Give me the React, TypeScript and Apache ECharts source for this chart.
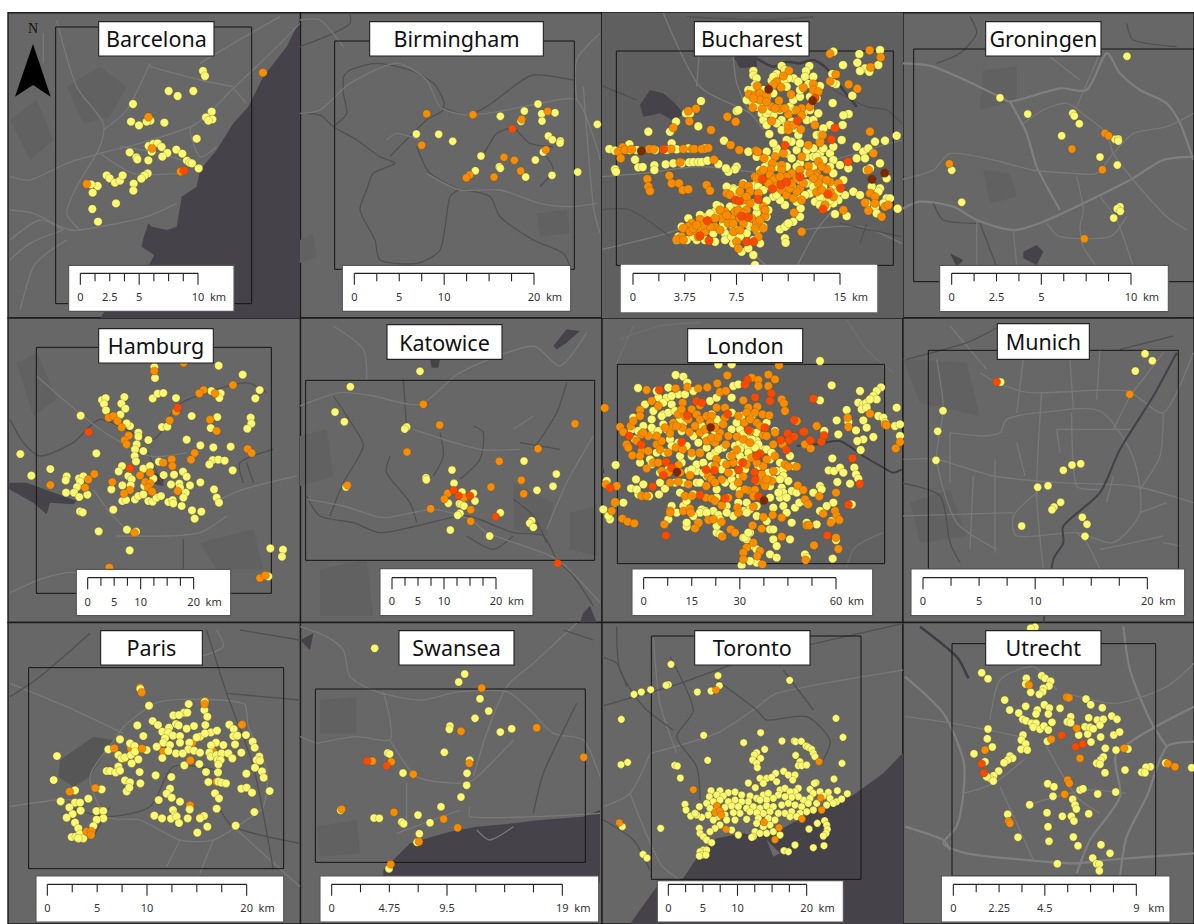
import React, { useEffect, useRef } from "react";
import * as echarts from "echarts";

type P = number[][];
const barcelonaLow: P = [[609,213],[615,228],[506,273],[533,288],[580,273],[399,312],[635,335],[618,352],[637,358],[625,362],[393,365],[417,376],[451,362],[440,365],[493,368],[590,416],[446,438],[460,432],[473,430],[485,441],[529,449],[547,461],[502,459],[487,470],[455,455],[389,457],[409,472],[412,478],[445,481],[561,482],[569,488],[576,490],[596,505],[320,526],[329,535],[345,548],[360,542],[368,526],[443,520],[433,527],[424,536],[401,551],[400,572],[293,558],[273,553],[278,578],[348,610],[277,627],[294,665]];
const barcelonaMid: P = [[789,218],[445,351],[456,445],[542,515],[260,552]];
const barcelonaHigh: P = [[552,512]];
const birminghamLow: P = [[714,312],[673,333],[725,341],[765,338],[601,349],[663,364],[726,363],[892,373],[349,402],[416,403],[458,424],[745,408],[757,419],[781,423],[780,429],[730,456],[706,480],[543,468],[598,500],[601,505],[526,512],[677,531],[756,526],[833,516]];
const birminghamMid: P = [[380,341],[519,344],[743,334],[665,358],[365,436],[738,449],[612,472],[643,481],[662,513],[509,525],[499,533],[582,531]];
const birminghamHigh: P = [[637,386]];
const bucharestLow: P = [[840,120],[778,132],[772,158],[835,165],[795,175],[780,183],[808,185],[700,125],[729,165],[697,192],[708,222],[698,218],[757,257],[698,279],[746,312],[730,316],[728,345],[545,168],[460,183],[460,196],[628,168],[618,183],[581,205],[565,205],[530,192],[555,180],[615,200],[640,200],[470,205],[515,212],[550,215],[595,215],[625,222],[660,228],[465,225],[445,240],[455,275],[485,310],[490,330],[500,345],[520,315],[545,330],[560,345],[585,355],[508,372],[545,360],[595,375],[540,300],[570,290],[585,300],[500,262],[610,310],[630,300],[28,417],[45,422],[88,403],[90,420],[110,420],[145,365],[210,365],[228,335],[295,349],[303,273],[258,310],[270,310],[410,303],[415,300],[372,392],[445,425],[410,470],[405,478],[385,485],[378,475],[45,478],[48,485],[105,449],[115,472],[128,471],[163,466],[163,480],[197,463],[220,460],[245,460],[268,457],[280,456],[295,456],[305,456],[322,452],[355,462],[200,420],[215,400],[165,420],[230,418],[265,415],[315,415],[470,440],[500,425],[530,415],[575,395],[590,420],[560,430],[575,445],[600,460],[620,440],[640,440],[660,430],[670,415],[690,430],[700,450],[720,465],[745,475],[690,470],[650,375],[665,372],[690,345],[670,355],[725,390],[660,395],[700,410],[770,410],[790,425],[770,445],[795,445],[825,395],[855,392],[890,377],[805,415],[840,460],[810,475],[800,480],[860,505],[815,530],[840,535],[835,545],[860,565],[870,565],[850,580],[825,590],[800,580],[830,610],[893,596],[760,545],[780,555],[735,555],[715,570],[700,580],[645,575],[675,565],[680,590],[705,612],[740,618],[600,620],[602,595],[590,560],[555,585],[540,570],[520,560],[500,572],[580,635],[560,645],[540,658],[555,650],[565,640],[555,685],[557,698],[470,520],[400,535],[405,550],[420,555],[440,570],[460,580],[490,595],[500,620],[360,590],[345,605],[320,620],[300,615],[275,640],[250,655],[235,680],[260,690],[290,690],[315,690],[345,695],[375,670],[375,690],[400,700],[425,725],[445,715],[460,735],[465,765],[480,700],[490,650],[470,660],[450,650],[440,640],[400,650],[370,640],[350,620],[420,600],[390,590],[620,520],[600,510],[575,530],[560,520],[630,550],[660,560],[705,540],[730,510],[640,510],[650,440]];
const bucharestLowDense: P = [[430,520],[415,540],[455,530],[475,530],[490,540],[510,530],[530,555],[560,540],[590,575],[615,555],[640,530],[670,530],[700,525],[715,545],[690,570],[660,585],[480,480],[495,470],[530,470],[560,470],[590,470],[615,490],[640,470],[670,450],[700,490],[620,420],[640,415],[600,400],[560,390],[520,400],[530,430],[505,450],[470,610],[480,640],[460,690],[440,670],[420,680],[395,680],[370,650],[340,670],[320,650],[295,650],[265,625],[245,650],[230,690],[280,680],[330,610],[350,585],[410,580],[430,590],[470,590],[505,600],[400,540],[380,530],[520,250],[490,280],[470,290],[500,310],[530,340],[575,335],[620,330],[640,330],[655,310],[580,270],[600,260],[630,260],[650,265],[490,240],[520,200],[560,230],[600,240],[455,240],[440,270],[505,300]];
const bucharestMid: P = [[809,121],[690,131],[842,142],[812,172],[708,193],[690,214],[746,223],[772,236],[567,182],[550,198],[530,215],[520,225],[543,232],[472,228],[447,253],[465,255],[480,250],[500,255],[480,270],[458,293],[487,297],[515,290],[537,272],[540,295],[573,253],[610,233],[640,222],[640,240],[655,245],[605,295],[590,300],[630,290],[565,313],[605,316],[515,333],[565,360],[603,358],[645,345],[625,405],[68,412],[55,425],[75,420],[62,445],[95,418],[148,417],[160,418],[213,417],[250,417],[277,417],[283,417],[305,417],[325,414],[220,353],[268,334],[288,296],[265,303],[333,360],[382,320],[407,335],[392,405],[418,420],[342,449],[240,457],[142,507],[145,530],[150,543],[208,497],[215,520],[237,520],[248,540],[265,538],[320,525],[330,542],[468,422],[473,425],[492,445],[525,440],[550,430],[517,460],[545,465],[513,478],[545,480],[510,495],[525,505],[480,490],[465,500],[490,510],[575,490],[605,440],[625,468],[655,455],[650,490],[680,478],[660,505],[645,495],[690,515],[655,520],[650,546],[600,535],[590,545],[545,540],[560,555],[580,565],[605,570],[520,510],[428,525],[445,528],[450,545],[380,550],[390,555],[475,550],[430,570],[668,375],[660,398],[810,365],[820,430],[805,480],[810,550],[825,560],[795,578],[825,580],[805,602],[845,620],[855,590],[865,585],[730,600],[675,585],[582,608],[605,665],[490,590],[495,618],[450,580],[440,600],[405,605],[395,625],[420,625],[375,605],[360,600],[365,625],[345,650],[360,660],[385,640],[400,640],[430,640],[455,625],[300,628],[275,640],[265,650],[250,655],[270,665],[290,665],[295,680],[245,680],[230,688],[250,690],[315,665],[410,695],[415,715],[475,680],[490,655],[470,505],[505,520],[530,530],[570,535],[575,520],[610,520],[630,490],[600,480],[590,505],[560,500],[540,500],[490,480],[665,470],[680,510],[640,505],[665,540],[700,560],[715,520],[690,545],[420,545],[440,560],[415,600],[430,610],[380,615],[345,625],[330,650],[310,645],[280,655],[290,645],[400,665],[420,660],[470,640],[465,655],[480,630],[495,600],[565,345],[580,345],[555,295],[525,295],[460,265],[500,275]];
const bucharestHigh: P = [[190,418],[593,332],[705,354],[694,389],[555,406],[744,455],[645,265],[487,508],[600,500],[517,537],[543,525],[560,516],[722,535],[684,553],[669,598],[474,568],[407,570],[418,573],[425,618],[445,622],[322,632],[300,678],[327,692],[440,695],[461,695]];
const bucharestTop: P = [[124,423],[506,238],[638,272],[816,508],[854,489]];
const groningenLow: P = [[681,139],[300,263],[383,312],[518,310],[523,318],[538,341],[485,377],[645,388],[655,387],[655,393],[600,441],[652,465],[155,481],[185,577],[660,590],[652,596],[661,604],[641,624]];
const groningenMid: P = [[615,370],[626,377],[516,417],[607,479],[148,461],[553,686]];
const hamburgLow: P = [[463,153],[465,186],[656,149],[728,176],[779,222],[766,247],[458,247],[473,233],[490,231],[528,246],[634,225],[662,232],[658,246],[306,252],[317,246],[373,243],[364,263],[376,278],[312,264],[318,283],[242,299],[361,296],[575,300],[652,303],[752,305],[754,323],[742,338],[486,333],[502,332],[390,330],[380,322],[632,336],[415,350],[415,362],[445,372],[560,371],[601,388],[640,394],[692,392],[410,385],[405,400],[430,405],[404,420],[408,436],[638,432],[655,431],[674,434],[628,445],[289,412],[61,414],[94,479],[151,459],[200,481],[197,493],[237,487],[250,481],[240,497],[231,513],[198,530],[222,530],[238,543],[262,536],[366,450],[356,466],[430,458],[450,450],[477,437],[491,477],[522,476],[549,467],[560,482],[698,463],[601,499],[570,508],[513,505],[538,503],[540,515],[557,530],[550,545],[642,520],[650,545],[657,560],[545,570],[576,583],[604,587],[584,608],[505,558],[518,552],[520,562],[385,480],[395,490],[367,508],[392,508],[334,520],[367,555],[378,552],[405,550],[415,540],[430,535],[445,555],[458,557],[470,545],[483,540],[433,510],[460,488],[240,586],[248,589],[340,581],[296,646],[381,641],[408,647],[389,703],[811,697],[849,701],[846,722],[805,781]];
const hamburgMid: P = [[463,165],[551,140],[699,207],[611,222],[598,232],[645,232],[528,287],[509,313],[630,311],[650,345],[326,305],[340,300],[353,315],[365,334],[386,359],[374,373],[380,385],[584,411],[573,431],[743,399],[755,411],[490,440],[515,430],[517,450],[283,474],[265,490],[255,515],[151,507],[420,478],[450,470],[337,498],[390,522],[372,533],[436,498],[450,502],[445,515],[456,527],[533,525],[403,650],[328,755],[780,786],[796,778]];
const hamburgHigh: P = [[533,275],[266,348],[390,457]];
const katowiceLow: P = [[360,166],[151,212],[105,288],[133,317],[320,333],[314,339],[456,462],[378,485],[379,491],[462,502],[486,528],[520,532],[525,555],[445,562],[478,563],[484,565],[492,570],[480,592],[473,598],[601,590],[451,642],[569,660],[672,435],[769,474],[759,511],[711,523],[695,614],[689,622],[700,634],[138,513]];
const katowiceMid: P = [[370,265],[419,327],[321,408],[598,436],[714,398],[825,323],[142,508],[573,513],[664,493],[671,533],[443,532],[433,549],[492,545],[392,578],[512,581],[512,616]];
const katowiceHigh: P = [[461,523],[476,539],[510,539],[587,602],[773,742]];
const londonLow: P = [[660,135],[355,145],[395,145],[227,177],[250,182],[262,200],[114,216],[695,208],[843,214],[830,225],[820,240],[830,250],[780,225],[775,260],[790,265],[800,260],[810,250],[785,280],[800,275],[740,282],[660,253],[890,275],[745,318],[790,313],[835,300],[850,305],[855,320],[885,330],[900,325],[710,313],[768,343],[800,335],[715,355],[820,363],[790,370],[772,375],[782,402],[673,345],[900,360],[697,427],[686,463],[702,465],[720,455],[730,470],[763,455],[768,475],[775,488],[712,498],[750,503],[660,510],[640,530],[665,520],[700,560],[680,570],[620,560],[585,575],[598,560],[650,625],[695,615],[615,715],[620,725],[698,728],[708,672],[755,565],[47,447],[20,495],[93,517],[108,490],[130,505],[115,535],[147,540],[177,535],[195,518],[225,500],[240,530],[290,465],[265,465],[205,460],[150,430],[155,445],[195,410],[205,215],[175,245],[200,245],[215,265],[235,235],[255,235],[330,255],[350,245],[395,245],[400,210],[415,205],[280,225],[190,295],[205,290],[155,310],[135,265],[100,305],[95,340],[155,355],[190,325],[250,320],[335,295],[365,320],[305,330],[345,345],[295,380],[320,395],[345,410],[370,395],[405,390],[420,380],[440,365],[435,385],[445,395],[470,375],[420,340],[470,350],[455,300],[500,320],[525,345],[490,400],[510,430],[540,440],[530,465],[550,460],[520,490],[545,515],[550,530],[540,545],[575,525],[590,530],[510,545],[520,575],[550,570],[420,400],[390,420],[370,440],[420,440],[300,410],[275,420],[260,390],[235,380],[210,370],[245,345],[180,470],[290,500],[320,480],[280,535],[375,500],[395,490],[420,480],[400,510],[350,520],[420,525],[440,560],[415,560],[380,570],[340,585],[305,580],[315,585],[250,570],[215,570],[205,610],[260,632],[295,620],[355,597],[350,650],[360,655],[430,665],[440,670],[450,650],[500,615],[520,670],[530,690],[575,620],[570,670],[510,715],[530,725],[470,740],[450,735],[425,748],[360,610],[290,445],[225,460],[570,420],[580,450],[550,480],[30,610],[25,600],[10,580],[70,560],[45,560],[620,620],[660,585],[560,590],[490,490],[450,580],[470,600],[400,600],[315,360],[340,375],[280,360],[200,340]];
const londonLowDense: P = [[170,225],[190,260],[215,240],[160,285],[185,300],[225,285],[240,310],[130,330],[155,335],[105,370],[115,345],[175,345],[215,390],[170,410],[120,440],[350,310],[395,290],[410,320],[425,300],[395,340],[430,355],[455,370],[475,385],[500,400],[515,410],[445,410],[465,395],[400,415],[355,400],[330,420],[310,440],[335,450],[365,460],[395,470],[435,460],[475,450],[505,470],[540,490],[565,495],[535,530],[560,545],[440,430],[420,420],[510,510],[300,500],[350,545],[260,555],[230,590],[300,590],[320,590],[380,590],[430,585],[440,590],[470,570],[510,640],[520,640],[435,665],[445,650],[460,690],[470,700],[350,630],[260,620],[280,600],[180,500],[250,500],[110,520],[245,440],[275,460],[310,470],[240,420]];
const londonMid: P = [[14,276],[537,148],[382,178],[455,185],[475,192],[505,176],[525,190],[475,210],[505,210],[352,202],[262,213],[295,217],[322,214],[227,217],[140,222],[360,228],[378,225],[430,253],[155,255],[175,270],[248,260],[300,268],[350,275],[375,275],[445,275],[472,272],[545,250],[552,262],[120,282],[120,300],[234,295],[275,280],[290,295],[300,310],[320,300],[335,300],[375,305],[440,290],[465,290],[488,295],[508,298],[555,285],[590,315],[60,333],[70,348],[92,330],[100,315],[220,320],[220,332],[285,330],[330,320],[370,325],[433,320],[470,320],[525,350],[650,330],[612,347],[855,325],[860,328],[810,293],[743,305],[745,333],[124,355],[145,360],[210,352],[248,335],[268,348],[300,350],[320,375],[360,350],[385,360],[410,362],[450,345],[490,358],[80,385],[85,395],[97,418],[125,405],[145,405],[170,385],[185,375],[228,395],[248,400],[275,410],[300,412],[345,380],[378,385],[410,402],[520,385],[548,385],[615,385],[632,397],[887,397],[900,378],[160,440],[175,440],[140,457],[185,465],[235,448],[235,497],[210,500],[270,478],[350,430],[380,445],[400,440],[325,480],[335,490],[365,490],[430,482],[455,425],[490,450],[485,475],[520,465],[555,445],[565,452],[590,452],[515,495],[490,500],[319,510],[445,523],[465,522],[495,510],[593,508],[610,522],[708,530],[125,540],[140,540],[255,540],[275,540],[318,545],[335,548],[345,555],[365,568],[418,535],[460,572],[412,575],[415,590],[490,603],[518,597],[545,605],[615,550],[625,565],[658,541],[670,593],[705,585],[710,600],[718,612],[692,620],[620,628],[628,628],[210,585],[210,590],[250,585],[270,578],[272,590],[193,625],[295,622],[285,637],[325,612],[340,610],[365,618],[392,640],[405,650],[367,662],[458,628],[485,638],[545,662],[642,688],[708,665],[715,699],[617,732],[440,695],[430,710],[430,730],[480,705],[472,720],[460,680],[487,745],[35,585],[67,608],[83,617],[103,622],[45,558],[50,510],[18,505],[5,520],[195,335],[170,360],[130,350],[110,375],[230,330],[255,300],[245,280],[265,310],[315,340],[345,335],[335,365],[355,365],[415,300],[450,310],[480,330],[430,370],[450,380],[500,360],[395,420],[345,450],[385,470],[415,500],[345,500],[470,495],[500,490],[430,440],[470,440],[440,445],[500,430],[525,420],[180,400],[205,410],[120,420],[265,505],[240,470],[205,470],[385,545],[460,540],[435,520]];
const londonHigh: P = [[178,222],[442,192],[435,206],[514,232],[510,255],[465,244],[640,248],[289,255],[306,260],[262,298],[383,294],[582,312],[445,342],[495,335],[563,352],[568,372],[583,362],[542,372],[610,347],[631,373],[664,377],[672,358],[88,360],[124,386],[245,378],[559,402],[480,413],[470,420],[757,427],[198,438],[215,455],[428,440],[190,478],[318,461],[343,464],[416,462],[463,468],[465,492],[30,516],[158,512],[779,504],[375,547],[300,537],[476,541],[745,566],[198,658],[682,658]];
const londonTop: P = [[332,334],[231,468],[492,553],[5,525]];
const munichLow: P = [[735,113],[757,134],[706,165],[129,284],[113,346],[108,433],[542,443],[516,447],[490,463],[444,509],[413,514],[482,559],[462,573],[456,581],[547,604],[561,625],[555,661],[365,630],[302,198],[410,935]];
const munichMid: P = [[689,235]];
const munichHigh: P = [[290,198]];
const parisUnder: P = [[577,368],[640,395],[490,395],[373,415],[393,385],[570,556],[600,592],[650,485],[300,572],[615,243],[420,203]];
const parisLow: P = [[421,207],[447,257],[566,252],[614,246],[552,278],[562,278],[520,286],[537,285],[613,270],[622,290],[458,303],[474,315],[412,316],[528,312],[536,316],[582,318],[560,326],[616,315],[688,314],[701,327],[487,335],[507,323],[505,338],[430,348],[519,347],[540,348],[600,350],[590,352],[633,337],[651,332],[615,340],[700,348],[712,347],[738,345],[360,358],[390,370],[404,378],[495,355],[490,368],[510,375],[470,380],[540,368],[568,368],[648,368],[670,375],[633,376],[705,373],[758,365],[764,383],[325,388],[440,390],[565,388],[582,392],[600,398],[528,400],[548,400],[505,393],[487,414],[628,398],[632,410],[650,405],[665,400],[685,400],[697,415],[724,398],[355,405],[365,415],[375,412],[393,405],[405,395],[415,418],[395,430],[355,440],[653,420],[662,420],[655,433],[778,410],[770,420],[780,422],[765,443],[786,454],[791,473],[739,461],[553,436],[598,432],[618,456],[654,457],[419,456],[320,453],[330,453],[347,457],[360,452],[467,466],[514,471],[375,481],[390,487],[421,490],[380,514],[388,503],[625,486],[655,485],[665,488],[678,490],[724,506],[740,503],[756,518],[809,513],[645,520],[657,535],[510,506],[500,521],[515,533],[476,540],[540,545],[569,568],[650,566],[763,576],[519,570],[525,585],[463,587],[486,595],[513,596],[530,590],[563,595],[537,609],[612,588],[600,595],[622,620],[592,638],[707,617],[171,408],[161,480],[225,511],[305,508],[265,536],[182,544],[225,548],[240,548],[208,562],[218,582],[242,572],[200,593],[289,573],[310,573],[310,595],[290,599],[225,608],[280,618],[235,625],[215,651],[228,650],[240,642],[250,655],[235,655]];
const parisMid: P = [[425,217],[614,252],[726,314],[343,385],[426,386],[571,421],[286,504],[209,515],[260,635],[274,634],[273,645]];
const swanseaLow: P = [[224,85],[494,162],[476,186],[540,236],[566,273],[525,295],[450,318],[448,328],[601,336],[635,326],[263,399],[269,402],[433,397],[509,421],[501,460],[500,496],[483,531],[309,459],[423,560],[354,585],[222,594],[238,595],[305,606],[311,611],[390,608],[358,641],[351,667],[267,746],[122,571]];
const swanseaMid: P = [[545,204],[483,334],[710,323],[851,412],[217,423],[274,425],[508,430],[340,463],[125,568],[282,577],[431,597],[473,623],[357,665],[272,733]];
const swanseaHigh: P = [[201,423],[260,437]];
const torontoLow: P = [[213,133],[354,167],[569,181],[358,197],[205,194],[198,196],[152,209],[124,216],[102,223],[292,216],[333,213],[708,295],[64,298],[482,338],[311,346],[729,352],[431,368],[546,363],[583,363],[587,365],[604,364],[494,388],[618,378],[625,382],[635,388],[640,400],[645,410],[470,398],[463,405],[482,415],[458,420],[470,430],[472,443],[587,406],[600,425],[595,437],[605,437],[620,435],[323,421],[83,427],[63,434],[224,436],[232,438],[241,474],[726,430],[702,477],[648,488],[643,490],[551,454],[527,460],[565,465],[585,465],[480,475],[500,475],[515,472],[530,485],[578,480],[445,489],[466,503],[490,490],[595,505],[712,512],[742,521],[585,515],[255,553],[258,570],[333,512],[360,512],[385,518],[405,516],[350,525],[370,528],[328,530],[425,525],[450,528],[470,535],[490,525],[505,520],[540,510],[555,505],[570,515],[630,508],[640,520],[660,515],[685,517],[670,528],[690,535],[710,545],[725,537],[700,550],[630,535],[610,540],[595,530],[575,532],[555,530],[535,525],[520,535],[500,540],[480,540],[445,545],[425,545],[405,540],[385,545],[360,540],[340,545],[320,550],[298,560],[330,565],[350,570],[375,562],[395,558],[415,560],[440,565],[460,560],[480,565],[500,558],[520,560],[545,555],[565,550],[585,555],[605,560],[625,550],[650,550],[680,555],[640,570],[620,575],[600,580],[575,575],[555,580],[535,580],[510,575],[490,580],[470,578],[450,575],[420,580],[400,578],[375,585],[355,590],[325,585],[305,592],[290,585],[272,588],[285,580],[340,600],[380,600],[405,600],[440,598],[475,595],[505,595],[525,600],[570,590],[590,590],[510,615],[490,620],[470,610],[465,635],[480,640],[500,640],[520,635],[540,645],[460,650],[455,652],[415,645],[395,630],[360,615],[345,625],[330,635],[298,625],[300,640],[310,650],[320,660],[335,668],[310,690],[300,695],[320,690],[305,705],[298,708],[318,705],[627,627],[652,610],[674,602],[680,615],[682,628],[678,640],[670,648],[640,683],[672,677],[585,675],[552,692],[565,695],[182,625],[129,703],[141,714],[67,620]];
const torontoMid: P = [[348,210],[657,425],[280,509],[58,608],[662,534],[665,570],[351,557],[345,578],[360,573],[364,585],[492,607],[606,597],[537,623],[378,628],[525,659]];
const utrechtLow: P = [[245,158],[264,176],[379,175],[377,192],[425,167],[435,175],[452,184],[447,198],[430,205],[428,215],[418,223],[392,217],[314,240],[558,237],[572,254],[607,263],[377,259],[329,270],[356,279],[412,270],[408,282],[433,254],[448,264],[445,282],[480,265],[635,288],[651,298],[566,293],[592,300],[610,298],[600,315],[512,290],[502,305],[512,308],[368,298],[378,302],[395,310],[408,310],[400,322],[420,328],[432,318],[445,330],[456,307],[264,327],[262,356],[277,381],[222,401],[369,345],[364,360],[377,372],[363,388],[382,390],[442,364],[536,345],[563,342],[555,320],[570,322],[580,326],[602,351],[641,345],[659,336],[573,366],[616,385],[648,390],[684,387],[610,411],[602,420],[590,430],[600,433],[615,458],[675,450],[751,440],[738,442],[725,457],[735,458],[797,429],[875,443],[330,408],[338,415],[323,420],[312,428],[296,453],[281,467],[270,475],[280,483],[260,470],[255,425],[443,491],[462,500],[459,529],[540,510],[549,506],[593,522],[647,516],[518,538],[525,555],[529,567],[389,554],[441,578],[487,589],[514,589],[522,603],[566,581],[323,583],[444,620],[354,652],[447,664],[520,651],[534,677],[603,674],[630,700],[578,714],[590,731],[598,733],[598,752],[472,731],[405,22],[392,25]];
const utrechtMid: P = [[387,195],[500,232],[507,233],[530,325],[454,358],[255,390],[672,385],[540,415],[804,431],[825,440],[503,480],[508,490],[494,523],[326,604],[330,610]];
const utrechtHigh: P = [[485,346],[527,380],[548,372],[245,431],[252,459]];

const cityNames = ["Barcelona","Birmingham","Bucharest","Groningen","Hamburg","Katowice","London","Munich","Paris","Swansea","Toronto","Utrecht"];
const scaleLabels = [["0","2.5","5","10"],["0","5","10","20"],["0","3.75","7.5","15"],["0","2.5","5","10"],["0","5","10","20"],["0","5","10","20"],["0","15","30","60"],["0","5","10","20"],["0","5","10","20"],["0","4.75","9.5","19"],["0","5","10","20"],["0","2.25","4.5","9"]];

const LIGHT = "#797979", DARK = "#505050", WATER = "#454249", PATCH = "#616161";
type Shape = { k: "fill" | "line"; c: string; w?: number; p: P };
const L = (...ls: P[]): Shape[] => ls.map((p) => ({ k: "line", c: LIGHT, w: 1.3, p }));
const T = (...ls: P[]): Shape[] => ls.map((p) => ({ k: "line", c: "#7f7f7f", w: 2.2, p }));
const D = (...ls: P[]): Shape[] => ls.map((p) => ({ k: "line", c: DARK, w: 1.3, p }));
const W = (...ls: P[]): Shape[] => ls.map((p) => ({ k: "fill", c: WATER, p }));
const H = (...ls: P[]): Shape[] => ls.map((p) => ({ k: "fill", c: PATCH, p }));

const basemaps: Shape[][] = [
  [...H([[200,260],[300,200],[380,260],[330,350],[250,370]],[[30,360],[110,300],[160,420],[90,480]]),
   ...W([[900,60],[860,140],[790,230],[745,320],[700,370],[650,450],[600,510],[590,560],[545,590],[530,680],[500,690],[450,790],[350,880],[300,955],[900,955]],[[445,670],[455,680],[500,690],[470,770],[425,740],[430,715]]),
   ...L([[30,530],[90,540],[200,490],[300,460],[420,430],[590,370],[700,265],[790,180],[900,70]],[[30,630],[100,640],[210,690],[300,680],[440,650],[530,610]],[[170,60],[230,260],[310,370],[300,440],[230,560],[200,640],[240,690]],[[450,190],[380,330],[310,390]],[[30,720],[120,660],[190,690]],[[130,100],[130,190]],[[590,370],[570,390],[600,470],[650,440]],[[300,460],[400,520],[540,520]],[[60,930],[100,800],[140,760],[200,720]],[[700,265],[740,310]],[[450,200],[600,240],[700,260]],[[360,440],[480,460],[600,500]],[[30,780],[90,730],[190,690]],[[840,50],[700,130],[600,190]])],
  [...H([[710,640],[800,630],[810,700],[720,710]],[[0,720],[40,700],[50,770],[0,790]]),
   ...D([[0,340],[60,345],[100,380],[170,420],[240,470],[285,490],[220,520],[200,570],[180,630],[225,720],[240,780],[350,790],[420,750],[450,590],[480,570],[570,590],[600,650],[700,720],[790,760],[810,800]],[[130,230],[150,210],[230,190],[330,210],[400,250],[430,300],[430,330],[380,360],[270,470]],[[130,230],[130,280],[140,340],[100,380]],[[350,440],[390,520],[480,570]],[[420,320],[500,345],[560,320],[640,260],[700,225],[820,240]],[[570,430],[590,400],[640,385],[690,430],[760,440]],[[540,480],[570,430]],[[720,560],[760,510],[740,470]],[[0,140],[100,100],[150,70],[150,40]]),
   ...L([[0,340],[60,330],[150,250],[290,190],[380,240],[420,320],[500,345],[620,330],[720,310],[830,300],[890,440],[900,480]],[[830,300],[830,180],[900,100]],[[260,420],[290,400],[360,420]],[[380,520],[480,570],[600,570],[720,610],[810,620],[890,610]],[[850,260],[880,620],[900,700]],[[0,60],[60,60],[130,140]])],
  [{ k: "fill", c: "#5f5f5f", p: [[0,0],[912,0],[912,930],[0,930]] },
   ...W([[120,285],[150,240],[190,250],[225,280],[250,310],[225,335],[180,310],[130,320]],[[400,140],[470,130],[470,170],[420,175]]),
   ...L([[190,10],[300,230],[450,310],[490,360]],[[0,500],[130,490],[300,470],[480,490]],[[0,720],[200,670],[350,620]],[[350,620],[470,740],[650,905]],[[600,660],[780,650],[905,700]],[[700,450],[905,390]],[[590,770],[650,660],[700,600]],[[400,140],[410,220],[450,310]],[[300,100],[290,230]]),
   ...D([[0,225],[110,270]],[[0,600],[90,600],[210,680]],[[700,240],[800,290],[860,300],[905,340]],[[720,640],[905,680]],[[780,700],[800,640]],[[260,20],[500,30],[640,20]]),
   { k: "line", c: "#403e44", w: 2.5, p: [[470,145],[520,170],[560,155],[600,160],[640,150],[680,175],[730,240],[770,290]] }],
  [...H([[250,180],[350,170],[350,270],[240,300]],[[250,480],[330,490],[350,560],[270,580]]),
   ...W([[370,725],[410,705],[430,725],[410,765],[370,745]],[[150,730],[190,750],[170,770]]),
   ...T([[0,160],[100,170],[300,260],[330,275],[480,235],[560,240],[620,130],[660,190],[720,240],[800,280],[840,340],[880,450]],[[330,275],[380,370],[410,470],[480,600]],[[0,600],[60,575],[160,590],[230,630],[340,660],[430,635],[550,580],[690,510],[790,450],[882,440]]),
   ...L([[0,510],[100,480],[150,430],[280,450],[400,480],[520,490],[590,490],[640,430],[700,370],[800,350],[882,310]],[[370,340],[430,300],[500,280],[560,320],[620,370],[640,430],[700,510],[800,620],[860,660]],[[530,500],[550,600],[540,650],[550,710],[590,770]],[[440,640],[480,680],[630,680],[680,620]],[[600,560],[650,630],[700,770]],[[230,630],[230,770]],[[340,660],[350,770]],[[600,130],[530,290]],[[450,140],[540,210]]),
   ...D([[680,40],[700,90],[830,110]],[[210,20],[230,70],[180,130],[110,160]],[[100,580],[130,630],[230,640]],[[240,640],[290,770]])],
  [...H([[50,140],[110,110],[170,250],[100,300]],[[600,680],[760,640],[790,760],[650,760]]),
   ...W([[28,500],[80,500],[230,555],[220,565],[150,560],[140,595],[100,560],[28,520]],[[465,470],[490,480],[490,510],[465,505]]),
   ...D([[30,310],[70,380],[120,420],[220,380],[300,310],[460,370],[530,270],[620,230],[740,200],[800,230]],[[440,400],[480,490],[490,510]],[[740,440],[760,500]],[[550,670],[550,760]],[[820,400],[720,440],[730,500]]),
   ...L([[30,830],[120,790],[200,770],[260,770]],[[110,180],[300,340],[450,420],[560,410]],[[680,600],[600,650],[500,660],[350,660]],[[280,520],[330,590],[400,660]],[[640,560],[730,520],[890,480]])],
  [...H([[0,360],[80,340],[100,480],[0,510]],[[60,760],[200,730],[220,900],[60,900]],[[640,500],[760,560],[740,660],[640,640]],[[810,590],[890,570],[890,720],[810,700]]),
   ...W([[760,90],[800,40],[840,45],[800,80],[770,100]],[[390,130],[420,130],[415,155],[395,155]],[[850,890],[870,870],[890,920],[840,920]]),
   ...D([[20,540],[60,600],[160,620],[240,650],[350,630],[500,600],[640,650],[730,660],[770,730],[820,780],[880,870]],[[100,240],[160,330],[190,390],[130,500],[90,600]],[[270,420],[260,470],[330,560],[350,620]],[[520,330],[550,350],[540,430],[480,490]],[[420,350],[430,420],[400,480]],[[640,550],[700,600],[740,680]],[[700,400],[770,290],[800,200]],[[660,380],[780,400]],[[310,190],[320,340]],[[500,660],[580,700],[640,660]]),
   ...L([[0,270],[120,230],[220,240],[360,265],[480,170],[700,90],[780,150],[860,50]],[[20,550],[130,570],[250,605],[400,580],[510,610],[560,650],[770,730],[900,860]],[[340,340],[540,400],[660,400]],[[640,340],[700,300]],[[880,360],[800,500],[740,640]],[[100,30],[190,100],[200,190]])],
  [...W([[80,545],[105,535],[110,555],[85,558]]),
   { k: "fill", c: "#616161", p: [[52,145],[854,145],[854,743],[52,743]] },
   { k: "line", c: "#3f3d44", w: 2, p: [[590,390],[650,385],[720,375],[790,420],[850,455],[880,470],[905,460]] },
   { k: "line", c: "#3f3d44", w: 2, p: [[0,430],[10,470]] },
   ...[[[740,10],[800,100],[880,170]],[[100,30],[50,140]],[[850,650],[760,700],[700,905]],[[60,70],[180,30],[300,20]]].map((p) => ({ k: "line" as const, c: "#717171", w: 1.2, p }))],
  [...H([[10,130],[200,140],[240,300],[60,260]],[[30,560],[150,520],[200,660],[60,680]]),
   ...L([[10,430],[110,430],[280,480],[480,500],[700,510],[880,560]],[[110,130],[130,280],[110,430],[170,620],[290,700]],[[240,170],[290,200],[390,230],[680,225],[790,290],[880,110]],[[150,350],[250,360],[300,350],[320,310],[420,290],[600,285],[700,425],[720,590],[640,680],[530,650],[350,660],[340,600],[410,530]],[[425,230],[410,530],[430,760]],[[285,430],[285,710]],[[515,290],[530,510],[600,520]],[[600,100],[590,250]],[[690,240],[790,110]],[[640,340],[690,240]],[[150,30],[260,160]],[[370,130],[350,290]],[[510,130],[520,280]],[[470,340],[700,340]],[[0,600],[340,590]],[[600,760],[560,680],[530,650]],[[720,590],[800,560]],[[790,290],[780,420],[720,520]],[[790,660],[700,680],[600,700]],[[150,350],[150,500]],[[220,480],[210,700]],[[350,380],[375,480]],[[470,340],[480,410]],[[620,560],[640,480]],[[790,680],[840,690]]),
   ...D([[0,500],[120,540],[150,680],[180,740]],[[20,130],[200,80],[300,30]],[[660,100],[820,60]]),
   { k: "line", c: "#434146", w: 2, p: [[830,110],[760,240],[660,400],[600,530],[490,630],[490,680],[460,730],[430,925]] }],
  [{ k: "fill", c: "#565656", p: [[180,420],[280,350],[340,360],[270,470],[220,500],[175,470]] },
   ...L([[370,320],[480,245],[730,250],[745,320],[800,450],[790,560],[740,600],[640,660],[540,660],[420,600],[320,590],[270,470],[350,350],[370,320]],[[30,190],[200,260],[370,340]],[[650,30],[670,80],[600,110]],[[30,560],[170,540],[270,540]],[[700,620],[900,800]],[[540,660],[500,740]],[[640,660],[600,760]]),
   ...D([[30,230],[120,170],[270,40]],[[620,30],[680,220],[760,440],[820,750]],[[650,550],[700,620],[900,670]],[[330,560],[280,650]],[[200,560],[320,590],[450,560],[520,440],[650,450]],[[720,30],[900,60]],[[680,220],[900,240]])],
  [...H([[60,240],[170,230],[170,340],[60,340]],[[50,620],[170,600],[180,700],[60,710]]),
   ...W([[250,750],[330,670],[450,635],[530,620],[640,610],[720,600],[850,590],[900,570],[900,790],[250,790]],[[0,60],[40,40],[30,90]]),
   ...L([[0,20],[80,50],[130,90],[150,170],[230,215],[360,240],[480,215],[620,215],[690,270],[760,340],[850,360],[900,470]],[[250,215],[270,300],[270,360],[170,350],[50,370]],[[270,360],[350,470],[470,490],[520,480],[640,360]],[[520,470],[560,340],[620,200],[700,130],[830,10]],[[510,560],[510,590],[700,590],[900,580]],[[320,620],[320,490]],[[290,640],[400,600],[480,570]],[[0,350],[50,370]],[[530,630],[570,660],[640,620]]),
   ...D([[700,580],[730,460],[810,290],[830,250]],[[790,30],[880,60]])],
  [...W([[90,912],[170,800],[250,775],[300,700],[350,655],[430,640],[480,650],[540,630],[610,590],[650,570],[760,525],[850,460],[912,395],[912,912]]),
   { k: "fill", c: "#6a6a6a", p: [[500,660],[540,700],[600,660],[610,650],[560,690],[520,710]] },
   ...L([[150,400],[350,340],[460,270],[530,220],[912,150]],[[10,560],[90,520],[150,400]],[[90,520],[180,730],[240,780]],[[160,50],[180,250],[230,400]]),
   ...D([[50,20],[60,150],[130,260],[220,330]],[[210,110],[280,270],[230,350],[290,440],[300,540]],[[350,180],[470,270],[500,300],[620,290],[690,360],[670,420]],[[550,150],[640,270]],[[10,600],[100,660],[150,750]],[[0,260],[240,190],[440,120],[912,10]],[[0,110],[50,130],[80,200]])],
  [...T([[15,170],[130,280],[190,420],[190,520],[170,620],[130,670],[200,700],[380,720],[520,730],[620,720],[882,700]],[[15,620],[130,660],[150,690]],[[660,770],[680,650],[740,530],[800,380],[882,365]],[[670,20],[690,150],[750,300],[800,380]],[[530,760],[570,660],[660,530],[650,400],[882,260]]),
   ...L([[15,290],[160,310],[360,350]],[[190,520],[280,490],[370,420]],[[440,380],[530,530],[600,580]],[[300,500],[400,720]],[[500,220],[650,250],[800,200],[882,130]],[[270,300],[300,180],[400,140],[470,210]],[[400,550],[560,510],[680,520]]),
   { k: "line", c: "#3f3d44", w: 2.5, p: [[60,20],[170,110],[205,175]] }],
];

const lowSets = [barcelonaLow,birminghamLow,[...bucharestLow,...bucharestLowDense],groningenLow,hamburgLow,katowiceLow,[...londonLow,...londonLowDense],munichLow,parisLow,swanseaLow,torontoLow,utrechtLow];
const midSets = [barcelonaMid,birminghamMid,bucharestMid,groningenMid,hamburgMid,katowiceMid,londonMid,munichMid,parisMid,swanseaMid,torontoMid,utrechtMid];
const highSets = [barcelonaHigh,birminghamHigh,bucharestHigh,[],hamburgHigh,katowiceHigh,londonHigh,munichHigh,[],swanseaHigh,[],utrechtHigh];
const topSets = [[],[],bucharestTop,[],[],[],londonTop,[],[],[],[],[]];
const underSets = [[],[],[],[],[],[],[],[],parisUnder,[],[],[]];

const colEdges = [8, 300.5, 602, 903, 1194];
const rowEdges = [12.7, 318, 622.5, 924];
const origins = [[0,0],[300,0],[600,10],[900,10],[0,316],[300,316],[600,316],[900,316],[0,620],[300,620],[600,620],[900,620]];
const dotSizes = [8.4,8,8.6,8,8.2,8,8.4,8,8.2,8,7.4,8];
// inner box, title box, scale box, ruler [x0,x1,y], label y
const layout = [
  { inner:[167,81,755,911], title:[296,65,642,168], scale:[206,796,702,934], ruler:[241,594,820], ly:890 },
  { inner:[104,123,823,808], title:[209,65,730,168], scale:[127,796,812,934], ruler:[163,702,820], ly:890 },
  { inner:[49,123,880,766], title:[283,35,627,138], scale:[64,766,830,905], ruler:[99,720,790], ly:860 },
  { inner:[41,117,882,815], title:[257,35,603,138], scale:[119,766,805,905], ruler:[155,693,790], ly:860 },
  { inner:[109,94,814,832], title:[296,38,640,141], scale:[229,760,692,899], ruler:[263,581,785], ly:855 },
  { inner:[17,193,884,733], title:[261,26,606,130], scale:[240,758,699,899], ruler:[276,588,785], ly:853 },
  { inner:[52,145,854,743], title:[263,38,608,140], scale:[96,759,818,899], ruler:[131,708,785], ly:853 },
  { inner:[85,103,835,760], title:[292,23,568,130], scale:[33,759,854,899], ruler:[69,742,785], ly:853 },
  { inner:[86,143,851,746], title:[302,32,607,135], scale:[108,768,851,906], ruler:[142,740,793], ly:861 },
  { inner:[46,207,856,727], title:[297,32,642,135], scale:[60,768,896,906], ruler:[95,787,793], ly:861 },
  { inner:[154,48,783,778], title:[284,32,630,135], scale:[172,782,730,906], ruler:[205,620,793], ly:861 },
  { inner:[156,71,767,768], title:[257,32,603,135], scale:[124,768,810,906], ruler:[160,709,793], ly:861 },
];

const FONT = "'Noto Sans', sans-serif";
const scatter = (i: number, data: P, color: string, z: number) => ({
  type: "scatter", xAxisIndex: i, yAxisIndex: i, data, symbolSize: dotSizes[i], silent: true, z, clip: true,
  itemStyle: { color, borderColor: "rgba(90,80,20,0.5)", borderWidth: 0.5, opacity: 1 },
});

function buildOption() {
  const grid: any[] = [], xAxis: any[] = [], yAxis: any[] = [], series: any[] = [], graphic: any[] = [];
  cityNames.forEach((name, i) => {
    const c = i % 4, r = Math.floor(i / 4);
    const [ox, oy] = origins[i];
    const l = layout[i];
    const X = (v: number) => ox + v / 3, Y = (v: number) => oy + v / 3;
    const [left, right, top, bottom] = [colEdges[c], colEdges[c + 1], rowEdges[r], rowEdges[r + 1]];
    grid.push({ left, top, width: right - left, height: bottom - top, show: true, backgroundColor: "#676767", borderColor: "#1c1c1c", borderWidth: 1.4 });
    xAxis.push({ gridIndex: i, type: "value", min: (left - ox) * 3, max: (right - ox) * 3, show: false });
    yAxis.push({ gridIndex: i, type: "value", min: (top - oy) * 3, max: (bottom - oy) * 3, inverse: true, show: false });
    const [a, b, d, e] = l.inner;
    const shapes: Shape[] = [...basemaps[i], { k: "line", c: "#151515", w: 1, p: [[a,b],[d,b],[d,e],[a,e],[a,b]] }];
    const boxIndex = shapes.length - 1;
    series.push({
      type: "custom", xAxisIndex: i, yAxisIndex: i, silent: true, clip: true, z: 1,
      data: shapes.map((s) => s.p[0]),
      renderItem: (params: any, api: any) => {
        const s = shapes[params.dataIndex];
        const points = s.p.map((q) => api.coord(q));
        return s.k === "fill"
          ? { type: "polygon", shape: { points, smooth: 0 }, style: { fill: s.c } }
          : { type: "polyline", shape: { points, smooth: params.dataIndex === boxIndex ? 0 : 0.25 }, style: { fill: "none", stroke: s.c, lineWidth: s.w, lineJoin: "round" } };
      },
    });
    if (underSets[i].length) series.push(scatter(i, underSets[i], "#f98c00", 2));
    series.push(scatter(i, lowSets[i], "#fbf872", 3));
    series.push(scatter(i, midSets[i], "#f98c00", 4));
    if (highSets[i].length) series.push(scatter(i, highSets[i], "#fb4a00", 5));
    if (topSets[i].length) series.push(scatter(i, topSets[i], "#7c2800", 6));

    const box = (q: number[], stroke: string) => ({
      type: "rect", z: 20, silent: true,
      shape: { x: X(q[0]), y: Y(q[1]), width: (q[2] - q[0]) / 3, height: (q[3] - q[1]) / 3 },
      style: { fill: "#fff", stroke, lineWidth: 1.1 },
    });
    graphic.push(box(l.title, "#222"));
    graphic.push({ type: "text", z: 21, silent: true, x: X((l.title[0] + l.title[2]) / 2), y: Y((l.title[1] + l.title[3]) / 2),
      style: { text: name, fill: "#111", font: `21.5px ${FONT}`, align: "center", verticalAlign: "middle" } });
    graphic.push(box(l.scale, i === 2 ? "#fff" : "#555"));
    const [rx0, rx1, ry] = l.ruler;
    const frac = [0, 0.125, 0.25, 0.375, 0.5, 0.625, 0.75, 0.875, 1];
    graphic.push({ type: "line", z: 22, silent: true, shape: { x1: X(rx0), y1: Y(ry), x2: X(rx1), y2: Y(ry) }, style: { stroke: "#222", lineWidth: 1.2 } });
    frac.forEach((f) => {
      const tx = X(rx0 + (rx1 - rx0) * f);
      const long = f === 0 || f === 0.5 || f === 1;
      graphic.push({ type: "line", z: 22, silent: true, shape: { x1: tx, y1: Y(ry), x2: tx, y2: Y(ry) + (long ? 11.5 : 8) }, style: { stroke: "#222", lineWidth: 1.1 } });
    });
    [0, 0.25, 0.5, 1].forEach((f, k) => {
      graphic.push({ type: "text", z: 22, silent: true, x: X(rx0 + (rx1 - rx0) * f), y: Y(l.ly),
        style: { text: scaleLabels[i][k], fill: "#333", font: `11px ${FONT}`, align: "center", verticalAlign: "middle" } });
    });
    graphic.push({ type: "text", z: 22, silent: true, x: X(rx1) + 20, y: Y(l.ly),
      style: { text: "km", fill: "#333", font: `11px ${FONT}`, align: "center", verticalAlign: "middle" } });
  });
  // north arrow
  graphic.push({ type: "polygon", z: 21, silent: true, shape: { points: [[33, 44], [50.7, 96.7], [33, 85], [15, 96.7]] }, style: { fill: "#000" } });
  graphic.push({ type: "text", z: 21, silent: true, x: 33, y: 28, style: { text: "N", fill: "#111", font: "14px 'Liberation Serif', serif", align: "center", verticalAlign: "middle" } });
  return { animation: false, backgroundColor: "#fff", grid, xAxis, yAxis, series, graphic };
}

export default function App() {
  const ref = useRef<HTMLDivElement>(null);
  useEffect(() => {
    document.body.style.margin = "0";
    const chart = echarts.init(ref.current!, undefined, { renderer: "svg" });
    chart.setOption(buildOption() as any);
    return () => chart.dispose();
  }, []);
  return <div ref={ref} style={{ width: 1194, height: 924, overflow: "hidden" }} />;
}
